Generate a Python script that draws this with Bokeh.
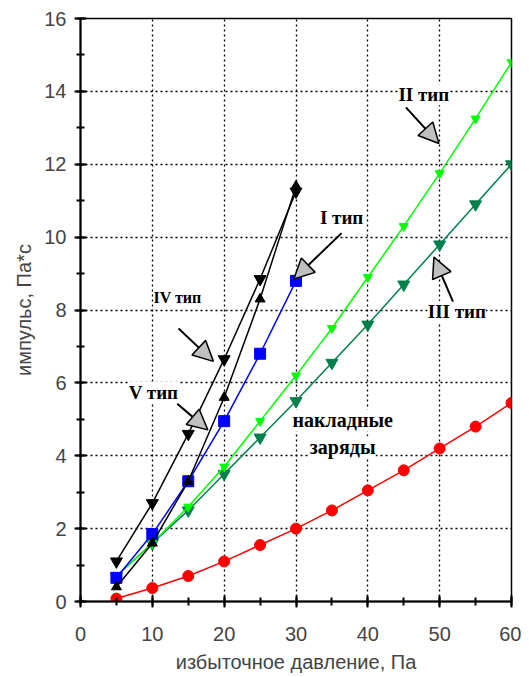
from bokeh.plotting import figure
from bokeh.models import Label, Arrow, NormalHead, FixedTicker, Range1d
from bokeh.embed import file_html
from bokeh.resources import INLINE

x_short = [5, 10, 15, 20, 25, 30]
x_long = [5, 10, 15, 20, 25, 30, 35, 40, 45, 50, 55, 60]

type_v = [0.4, 1.6, 3.3, 5.6, 8.3, 11.4]
type_iv = [1.1, 2.7, 4.6, 6.65, 8.85, 11.25]
type_i = [0.65, 1.85, 3.3, 4.95, 6.8, 8.8]
type_ii = [0.7, 1.6, 2.6, 3.7, 4.95, 6.2, 7.5, 8.9, 10.3, 11.75, 13.25, 14.8]
type_iii = [0.7, 1.6, 2.5, 3.5, 4.5, 5.5, 6.55, 7.6, 8.7, 9.8, 10.9, 12.0]
overlay = [0.08, 0.37, 0.7, 1.1, 1.55, 2.0, 2.5, 3.05, 3.6, 4.2, 4.8, 5.45]

x_ticks = [0, 10, 20, 30, 40, 50, 60]
y_ticks = [0, 2, 4, 6, 8, 10, 12, 14, 16]

p = figure(width=521, height=676, output_backend="svg", toolbar_location=None,
           x_range=Range1d(0, 60), y_range=Range1d(0, 16),
           min_border_left=80, min_border_right=10, min_border_top=18, min_border_bottom=75)

p.outline_line_color = "black"
p.outline_line_width = 1.5

xt = FixedTicker(ticks=x_ticks, minor_ticks=list(range(0, 61, 5)))
yt = FixedTicker(ticks=y_ticks, minor_ticks=list(range(0, 17)))
p.xaxis.ticker = xt
p.yaxis.ticker = yt
p.xgrid.ticker = FixedTicker(ticks=x_ticks[1:-1])
p.ygrid.ticker = FixedTicker(ticks=y_ticks[1:-1])

for ax in (p.xaxis[0], p.yaxis[0]):
    ax.axis_line_width = 2
    ax.major_tick_in = 6
    ax.major_tick_out = 6
    ax.minor_tick_in = 4
    ax.minor_tick_out = 4
    ax.major_tick_line_width = 2
    ax.minor_tick_line_width = 2
    ax.major_label_text_font = "Liberation Sans"
    ax.major_label_text_font_size = "20px"
    ax.axis_label_text_font = "Liberation Sans"
    ax.axis_label_text_font_size = "20px"
    ax.axis_label_text_font_style = "normal"

p.xaxis.axis_label = "избыточное давление, Па"
p.yaxis.axis_label = "импульс, Па*с"
p.xaxis.major_label_standoff = 19
p.yaxis.major_label_standoff = 8
p.xaxis.axis_label_standoff = 7
p.yaxis.axis_label_standoff = 6

p.xgrid.grid_line_color = "black"
p.xgrid.grid_line_dash = "2 3"
p.xgrid.grid_line_width = 1.3
p.ygrid.grid_line_color = "black"
p.ygrid.grid_line_dash = "2 3"
p.ygrid.grid_line_width = 1.3

# series
p.line(x_long, overlay, color="#ff0000", line_width=1.5)
p.scatter(x_long, overlay, marker="circle", size=11, color="#ff0000")

p.line(x_long, type_iii, color="#00804a", line_width=1.5)
p.scatter(x_long, type_iii, marker="inverted_triangle", size=12, color="#00804a")

p.line(x_long, type_ii, color="#00ff00", line_width=1.5)
p.scatter(x_long, type_ii, marker="inverted_triangle", size=9, color="#00ff00")

p.line(x_short, type_i, color="#0000ff", line_width=1.5)
p.scatter(x_short, type_i, marker="square", size=11, color="#0000ff")

p.line(x_short, type_iv, color="black", line_width=1.5)
p.scatter(x_short, type_iv, marker="inverted_triangle", size=12, color="black")

p.line(x_short, type_v, color="black", line_width=1.5)
p.scatter(x_short, type_v, marker="triangle", size=10, color="black")

# labels
def lab(x, y, t, size="19px"):
    p.add_layout(Label(x=x, y=y, text=t, text_font="Liberation Serif", text_font_style="bold",
                       text_font_size=size, text_align="center", text_baseline="middle",
                       background_fill_color="white", text_color="black"))

lab(47.8, 13.91, "II тип")
lab(36.35, 10.54, "I тип")
lab(13.5, 8.34, "IV тип", "16px")
lab(10.17, 5.74, "V тип")
lab(52.4, 7.96, "III тип")
lab(36.5, 4.97, "накладные", "20px")
lab(36.5, 4.23, "заряды", "20px")

def arr(x0, y0, x1, y1):
    p.add_layout(Arrow(x_start=x0, y_start=y0, x_end=x1, y_end=y1, line_width=2, line_color="black",
                       end=NormalHead(size=20, fill_color="#c0c0c0", line_color="black", line_width=1.5)))

arr(45.3, 13.56, 49.9, 12.57)
arr(36.35, 10.11, 29.7, 8.85)
arr(51.85, 8.23, 49.2, 9.45)
arr(13.65, 7.49, 18.5, 6.59)
arr(13.47, 5.43, 17.73, 4.71)

open("out.html", "w").write(file_html(p, INLINE))
